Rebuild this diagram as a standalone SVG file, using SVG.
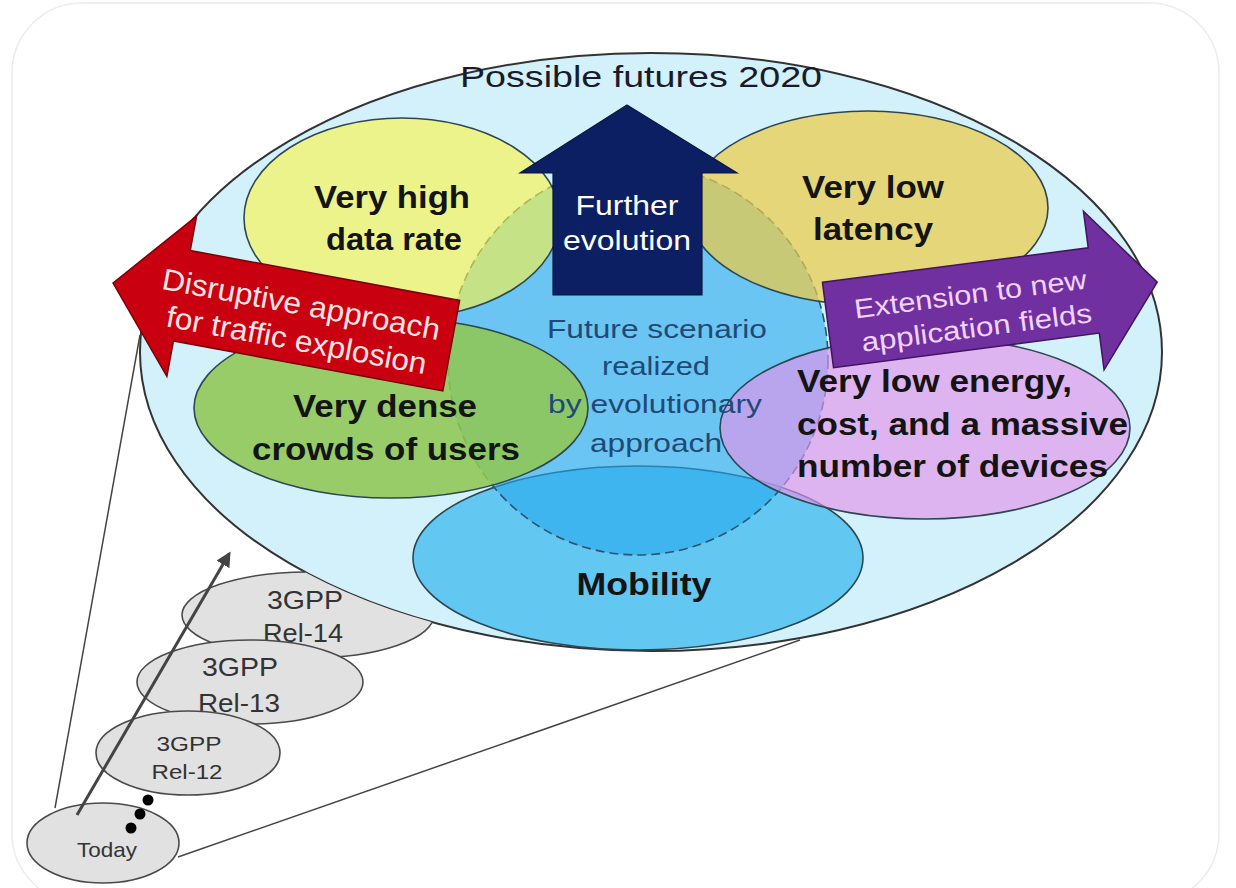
<svg xmlns="http://www.w3.org/2000/svg" width="1236" height="888" viewBox="0 0 1236 888">
<style>
.ell{stroke:#2d4652;stroke-width:1.6}
.b{font-family:"Liberation Sans",Arial,sans-serif;font-weight:bold;fill:#141414;font-size:31px;text-anchor:middle}
.n{font-family:"Liberation Sans",Arial,sans-serif;text-anchor:middle}
.g{fill:#e1e1e1;stroke:#4a4a4a;stroke-width:1.6}
.gt{font-family:"Liberation Sans",Arial,sans-serif;fill:#333;text-anchor:middle}
</style>
<defs>
<clipPath id="outsideBig"><path clip-rule="evenodd" d="M0 0H1236V888H0Z M140 352 a511 299 0 1 0 1022 0 a511 299 0 1 0 -1022 0Z"/></clipPath>
<marker id="ah" viewBox="0 0 10 10" refX="8" refY="5" markerWidth="5" markerHeight="5" orient="auto"><path d="M0 0 L10 5 L0 10 Z" fill="#444"/></marker>
</defs>
<rect x="12" y="3" width="1207" height="900" rx="70" fill="#fff" stroke="#ececec" stroke-width="1.5"/>

<g id="futures">
<ellipse cx="651" cy="352" rx="511" ry="299" fill="#d3f1fb" stroke="#333" stroke-width="2"/>
<text class="n" x="641" y="87" font-size="30" fill="#1a1a2a" textLength="362" lengthAdjust="spacingAndGlyphs">Possible futures 2020</text>
</g>

<g id="mobility">
<ellipse class="ell" cx="638" cy="558" rx="225" ry="92" fill="#62c8f2"/>
<text class="b" x="644" y="595" textLength="135" lengthAdjust="spacingAndGlyphs">Mobility</text>
</g>

<g id="scenario">
<ellipse cx="638" cy="360" rx="190" ry="195" fill="#26a8ec" fill-opacity="0.6" stroke="#2a5572" stroke-width="1.6" stroke-dasharray="9 5"/>
</g>

<g id="highrate">
<ellipse class="ell" cx="402" cy="218" rx="158" ry="100" fill="#fef345" fill-opacity="0.62"/>
<text class="b" x="392" y="208" textLength="156" lengthAdjust="spacingAndGlyphs">Very high</text>
<text class="b" x="394" y="250" textLength="136" lengthAdjust="spacingAndGlyphs">data rate</text>
</g>

<g id="latency">
<ellipse class="ell" cx="868" cy="208" rx="180" ry="97" fill="#edcb45" fill-opacity="0.71"/>
<text class="b" x="873" y="198" textLength="142" lengthAdjust="spacingAndGlyphs">Very low</text>
<text class="b" x="873" y="240" textLength="120" lengthAdjust="spacingAndGlyphs">latency</text>
</g>

<g id="dense">
<ellipse class="ell" cx="391" cy="408" rx="197" ry="90" fill="#8fc653" fill-opacity="0.88"/>
<text class="b" x="385" y="417" textLength="184" lengthAdjust="spacingAndGlyphs">Very dense</text>
<text class="b" x="386" y="460" textLength="268" lengthAdjust="spacingAndGlyphs">crowds of users</text>
</g>

<g id="energy">
<ellipse class="ell" cx="925" cy="428" rx="205" ry="91" fill="#e494ea" fill-opacity="0.65"/>
<text class="b" x="797" y="392" style="text-anchor:start" textLength="275" lengthAdjust="spacingAndGlyphs">Very low energy,</text>
<text class="b" x="797" y="435" style="text-anchor:start" textLength="331" lengthAdjust="spacingAndGlyphs">cost, and a massive</text>
<text class="b" x="797" y="477" style="text-anchor:start" textLength="311" lengthAdjust="spacingAndGlyphs">number of devices</text>
</g>

<g id="scenario-label" class="n" fill="#1f4a78" font-size="26">
<text x="657" y="338" textLength="220" lengthAdjust="spacingAndGlyphs">Future scenario</text>
<text x="656" y="375" textLength="108" lengthAdjust="spacingAndGlyphs">realized</text>
<text x="655" y="413" textLength="214" lengthAdjust="spacingAndGlyphs">by evolutionary</text>
<text x="656" y="452" textLength="132" lengthAdjust="spacingAndGlyphs">approach</text>
</g>

<g id="further">
<polygon points="627,105 737,173 702,173 702,295 553,295 553,173 520,173" fill="#0d1f63" stroke="#0a1540" stroke-width="1.2"/>
<text class="n" x="627" y="215" font-size="28" fill="#fff" textLength="103" lengthAdjust="spacingAndGlyphs">Further</text>
<text class="n" x="627" y="250" font-size="28" fill="#fff" textLength="128" lengthAdjust="spacingAndGlyphs">evolution</text>
</g>

<g id="disruptive" transform="translate(113,283) rotate(10.5)">
<polygon points="0,0 70,-81 70,-46 344,-46 344,46 70,46 70,82" fill="#c9000f" stroke="#7a0008" stroke-width="1.5"/>
<text class="n" x="189" y="-3" font-size="30" fill="#ffe4e4" textLength="282" lengthAdjust="spacingAndGlyphs">Disruptive approach</text>
<text class="n" x="191" y="33" font-size="30" fill="#ffe4e4" textLength="264" lengthAdjust="spacingAndGlyphs">for traffic explosion</text>
</g>

<g id="extension" transform="translate(828,325) rotate(-7.4)">
<polygon points="0,-43 268,-43 268,-80 332,0 268,80 268,43 0,43" fill="#7030a0" stroke="#3f1560" stroke-width="1.5"/>
<text class="n" x="145" y="-3" font-size="27" fill="#f0d4ff" textLength="234" lengthAdjust="spacingAndGlyphs">Extension to new</text>
<text class="n" x="147" y="31" font-size="27" fill="#f0d4ff" textLength="232" lengthAdjust="spacingAndGlyphs">application fields</text>
</g>

<g id="rel14">
<ellipse class="g" cx="308" cy="615" rx="126" ry="43" clip-path="url(#outsideBig)"/>
<text class="gt" x="305" y="609" font-size="25" textLength="76" lengthAdjust="spacingAndGlyphs">3GPP</text>
<text class="gt" x="303" y="642" font-size="25" textLength="80" lengthAdjust="spacingAndGlyphs">Rel-14</text>
</g>
<g id="rel13">
<ellipse class="g" cx="250" cy="682" rx="113" ry="42"/>
<text class="gt" x="240" y="676" font-size="25" textLength="76" lengthAdjust="spacingAndGlyphs">3GPP</text>
<text class="gt" x="239" y="712" font-size="25" textLength="82" lengthAdjust="spacingAndGlyphs">Rel-13</text>
</g>
<g id="rel12">
<ellipse class="g" cx="188" cy="753" rx="92" ry="42"/>
<text class="gt" x="189" y="751" font-size="21" textLength="65" lengthAdjust="spacingAndGlyphs">3GPP</text>
<text class="gt" x="187" y="779" font-size="21" textLength="71" lengthAdjust="spacingAndGlyphs">Rel-12</text>
</g>
<g id="today">
<ellipse class="g" cx="103" cy="843" rx="76" ry="40"/>
<text class="gt" x="107" y="857" font-size="21" textLength="60" lengthAdjust="spacingAndGlyphs">Today</text>
</g>

<g id="connectors">
<line x1="55" y1="808" x2="140" y2="335" stroke="#444" stroke-width="1.5"/>
<line x1="178" y1="857" x2="800" y2="640" stroke="#444" stroke-width="1.5"/>
<line x1="77" y1="815" x2="229" y2="554" stroke="#444" stroke-width="3" marker-end="url(#ah)"/>
<circle cx="148" cy="800" r="5.5" fill="#000"/>
<circle cx="140" cy="814" r="5.5" fill="#000"/>
<circle cx="131" cy="828" r="5.5" fill="#000"/>
</g>
</svg>
